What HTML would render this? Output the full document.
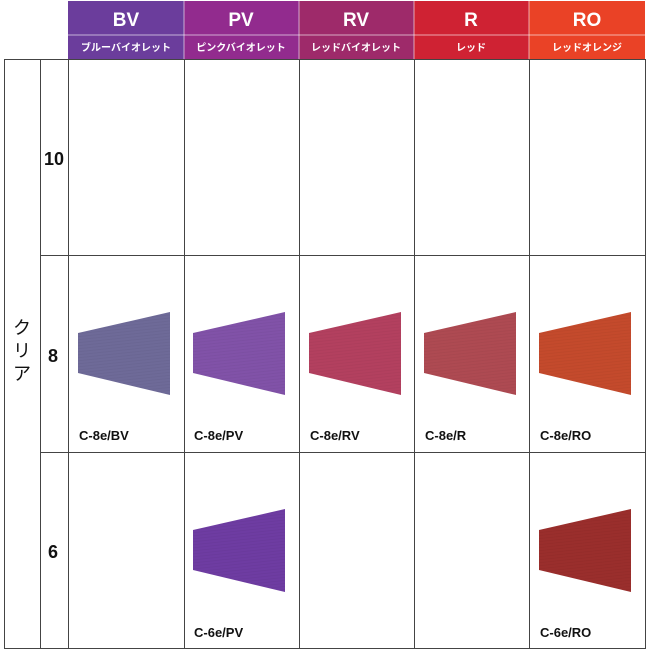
<!DOCTYPE html>
<html><head><meta charset="utf-8"><style>
body{margin:0;background:#fff;width:650px;height:650px;overflow:hidden}
svg{display:block}
text{font-family:"Liberation Sans","Noto Sans CJK JP",sans-serif}
</style></head><body>
<svg width="650" height="650" viewBox="0 0 650 650">
<defs>
<pattern id="tex" width="100" height="3" patternUnits="userSpaceOnUse" patternTransform="rotate(-6)">
<line x1="0" y1="1" x2="100" y2="1" stroke="#000" stroke-opacity="0.07" stroke-width="0.6"/>
</pattern>
</defs>
<rect x="68" y="1" width="116" height="58" fill="#6b3d9c"/>
<rect x="184" y="1" width="115" height="58" fill="#922b8e"/>
<rect x="299" y="1" width="115" height="58" fill="#9e2a6a"/>
<rect x="414" y="1" width="115" height="58" fill="#cf2233"/>
<rect x="529" y="1" width="116" height="58" fill="#ea4226"/>
<line x1="68" y1="35" x2="645" y2="35" stroke="#fff" stroke-opacity="0.6" stroke-width="1"/>
<g stroke="#fff" stroke-opacity="0.6"><line x1="184" y1="1" x2="184" y2="59"/><line x1="299" y1="1" x2="299" y2="59"/><line x1="414" y1="1" x2="414" y2="59"/><line x1="529" y1="1" x2="529" y2="59"/></g>
<g fill="#fff" font-size="19" font-weight="bold" text-anchor="middle">
<text x="126" y="26">BV</text><text x="241" y="26">PV</text><text x="356" y="26">RV</text><text x="471" y="26">R</text><text x="587" y="26">RO</text>
</g>
<g fill="#fff" font-size="10" font-weight="bold" text-anchor="middle">
<text x="126" y="51">ブルーバイオレット</text><text x="241" y="51">ピンクバイオレット</text><text x="356" y="51">レッドバイオレット</text><text x="471" y="51">レッド</text><text x="587" y="51">レッドオレンジ</text>
</g>
<g stroke="#444" stroke-width="1" fill="none">
<rect x="4.5" y="59.5" width="641" height="589"/>
<line x1="40.5" y1="59" x2="40.5" y2="649"/>
<line x1="68.5" y1="59" x2="68.5" y2="649"/>
<line x1="184.5" y1="59" x2="184.5" y2="649"/>
<line x1="299.5" y1="59" x2="299.5" y2="649"/>
<line x1="414.5" y1="59" x2="414.5" y2="649"/>
<line x1="529.5" y1="59" x2="529.5" y2="649"/>
<line x1="40" y1="255.5" x2="646" y2="255.5"/>
<line x1="40" y1="452.5" x2="646" y2="452.5"/>
</g>
<g fill="#111" font-size="18" font-weight="bold">
<text x="44" y="165">10</text><text x="48" y="362">8</text><text x="48" y="558">6</text>
</g>
<g fill="#111" font-size="18" text-anchor="middle">
<text x="22" y="334">ク</text><text x="22" y="357">リ</text><text x="22" y="380">ア</text>
</g>
<g>
<polygon points="78,333 170,312 170,395 78,373" fill="#6e6a98"/>
<polygon points="193,333 285,312 285,395 193,373" fill="#8152a8"/>
<polygon points="309,333 401,312 401,395 309,373" fill="#b3405f"/>
<polygon points="424,333 516,312 516,395 424,373" fill="#ae4a52"/>
<polygon points="539,333 631,312 631,395 539,373" fill="#c44a2c"/>
<polygon points="193,530 285,509 285,592 193,570" fill="#6e3ca2"/>
<polygon points="539,530 631,509 631,592 539,570" fill="#9a2e2c"/>
</g>
<g fill="url(#tex)">
<polygon points="78,333 170,312 170,395 78,373"/>
<polygon points="193,333 285,312 285,395 193,373"/>
<polygon points="309,333 401,312 401,395 309,373"/>
<polygon points="424,333 516,312 516,395 424,373"/>
<polygon points="539,333 631,312 631,395 539,373"/>
<polygon points="193,530 285,509 285,592 193,570"/>
<polygon points="539,530 631,509 631,592 539,570"/>
</g>
<g fill="#111" font-size="13" font-weight="bold">
<text x="79" y="440">C-8e/BV</text><text x="194" y="440">C-8e/PV</text><text x="310" y="440">C-8e/RV</text><text x="425" y="440">C-8e/R</text><text x="540" y="440">C-8e/RO</text>
<text x="194" y="637">C-6e/PV</text><text x="540" y="637">C-6e/RO</text>
</g>
</svg>
</body></html>
